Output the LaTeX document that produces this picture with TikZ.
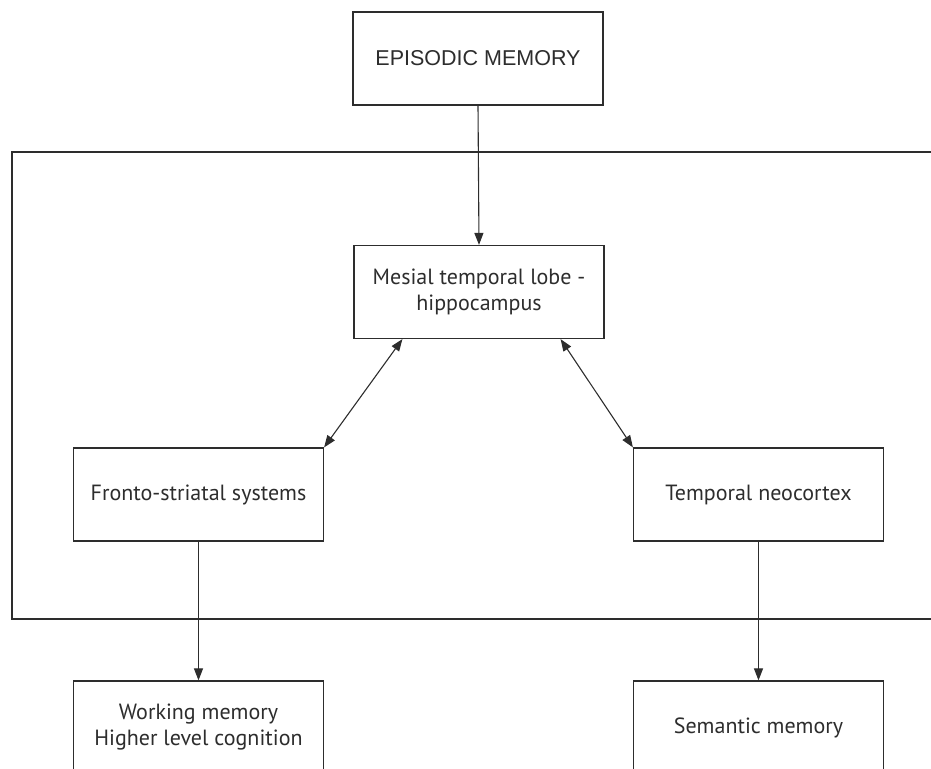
\documentclass[tikz,border=0pt]{standalone}
\usepackage{fontspec}
\setmainfont{PT Sans}
\newfontfamily\capsfont{Liberation Sans}
\usetikzlibrary{arrows.meta,positioning}
\definecolor{ink}{RGB}{45,45,45}
\tikzset{
  box/.style={draw=ink,line width=1.2pt,fill=white,minimum width=250pt,minimum height=93pt,
    inner sep=0pt,font=\fontsize{22}{26}\selectfont,align=center,text=ink},
  arr/.style={-{Triangle[length=12pt,width=9pt]},line width=1.1pt,ink},
  arrs/.style={{Triangle[length=12pt,width=9pt]}-{Triangle[length=12pt,width=9pt]},line width=1.1pt,ink},
}
\begin{document}
\begin{tikzpicture}[x=1pt,y=-1pt]
  \useasboundingbox (0,0) rectangle (931,768);
  \clip (0,0) rectangle (931,768);
  % frame round the three brain systems, open to the right
  \draw[ink,line width=1.2pt] (940,152) -- (12,152) -- (12,619) -- (940,619);
  \node[box,font=\capsfont\fontsize{21.5}{26}\selectfont] (epi) at (478,58.5) {EPISODIC MEMORY};
  \node[box] (mtl) at (479,292) {Mesial temporal lobe -\\hippocampus};
  \node[box] (fronto) at (198.5,494.5) {Fronto-striatal systems};
  \node[box] (neo) at (758.5,494.5) {Temporal neocortex};
  \node[box] (wm) at (198.5,727.5) {Working memory\\Higher level cognition};
  \node[box] (sem) at (758.5,727.5) {Semantic memory};
  \draw[arr] (epi.south) -- (mtl.north);
  \draw[arrs] ([xshift=49pt]mtl.south west) -- (fronto.north east);
  \draw[arrs] ([xshift=-44pt]mtl.south east) -- (neo.north west);
  \draw[arr] (fronto.south) -- (wm.north);
  \draw[arr] (neo.south) -- (sem.north);
\end{tikzpicture}
\end{document}
